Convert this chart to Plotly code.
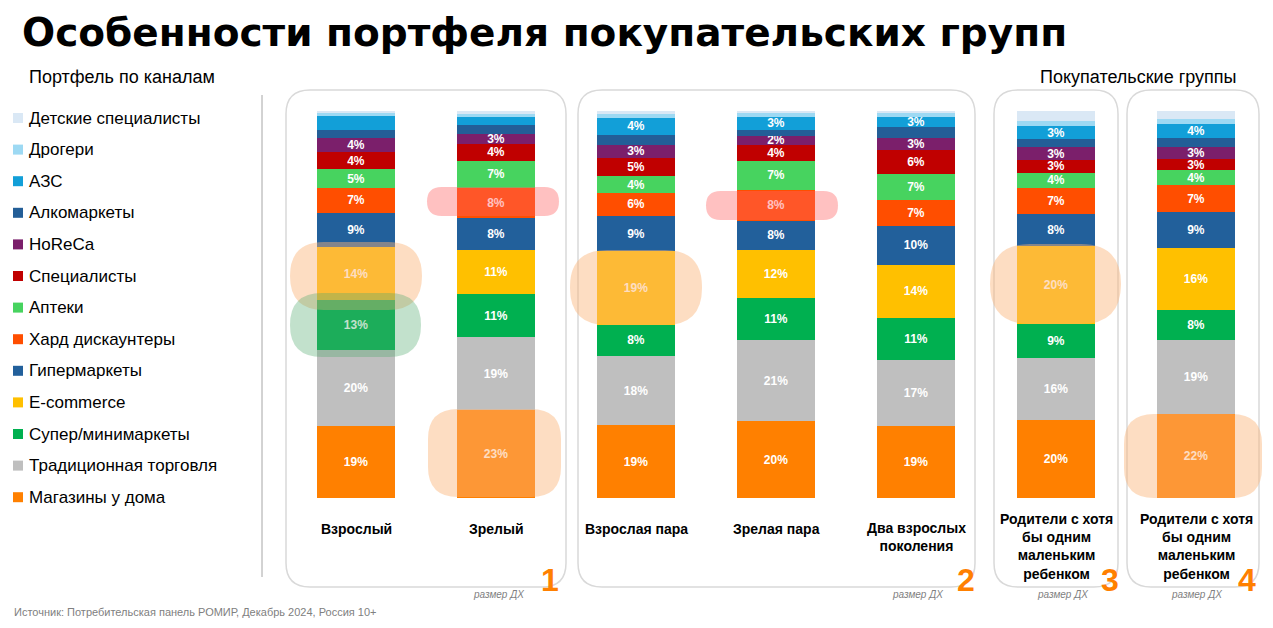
import plotly.graph_objects as go

# ---------------- data ----------------
categories = ["Взрослый", "Зрелый", "Взрослая пара", "Зрелая пара",
              "Два взрослых<br>поколения",
              "Родители с хотя<br>бы одним<br>маленьким<br>ребенком",
              "Родители с хотя<br>бы одним<br>маленьким<br>ребенком"]

# legend order (top of stack -> bottom)
channels = ["Детские специалисты", "Дрогери", "АЗС", "Алкомаркеты", "HoReCa",
            "Специалисты", "Аптеки", "Хард дискаунтеры", "Гипермаркеты",
            "E-commerce", "Супер/минимаркеты", "Традиционная торговля",
            "Магазины у дома"]

det_spec = [0.9, 0.6, 0.8, 0.5, 0.6, 2.7, 2.0]
drogeri = [0.9, 0.9, 1.0, 1.0, 0.9, 1.3, 1.3]
azs = [3.4, 1.9, 4.4, 3.4, 2.6, 3.2, 3.6]
alko = [2.3, 2.4, 2.6, 1.5, 2.8, 2.2, 2.3]
horeca = [3.6, 2.6, 3.3, 2.4, 3.2, 3.2, 3.2]
specialists = [4.4, 4.3, 4.7, 4.2, 6.2, 3.3, 2.9]
apteki = [4.7, 7.2, 4.4, 7.3, 6.7, 3.9, 3.9]
hard = [6.6, 7.6, 5.9, 8.0, 6.7, 6.8, 6.9]
hyper = [8.8, 8.3, 9.2, 7.6, 10.1, 8.2, 9.4]
ecom = [13.6, 11.4, 19.0, 12.3, 13.6, 20.3, 16.0]
supermini = [12.9, 11.1, 8.0, 11.0, 10.9, 8.6, 7.8]
traditional = [19.6, 18.9, 17.9, 21.0, 17.0, 16.2, 19.1]
home_stores = [18.7, 22.7, 18.8, 19.8, 18.7, 20.1, 21.6]

series_values = [det_spec, drogeri, azs, alko, horeca, specialists, apteki,
                 hard, hyper, ecom, supermini, traditional, home_stores]

# which segments carry a value label
ALL = [True] * 7
NONE = [False] * 7
labeled = [NONE, NONE, [False, False, True, True, True, True, True], NONE,
           ALL, ALL, ALL, ALL, ALL, ALL, ALL, ALL, ALL]

colors = ["#DAE8F5", "#9DD9F3", "#129FD8", "#235E97", "#7B1F6B", "#C00000",
          "#47D35F", "#FF4E00", "#22609B", "#FFC000", "#00B050", "#BFBFBF",
          "#FF8000"]

group_numbers = ["1", "2", "3", "4"]

# ---------------- layout helpers ----------------
OFF = 8  # page body margin
W, H = 1273 - OFF, 628 - OFF
ML, MR, MT, MB = 286 - OFF, 7, 111 - OFF, 130
PW, PH = W - ML - MR, H - MT - MB


def px(x):
    """page pixel x -> paper"""
    return (x - OFF - ML) / PW


def py(y):
    """page pixel y -> paper"""
    return (H - MB - (y - OFF)) / PH


def rrect(x0, y0, x1, y1, r):
    """rounded rectangle path in paper coords from page-pixel box"""
    rx = r / PW
    ry = r / PH
    X0, X1 = px(x0), px(x1)
    Y0, Y1 = py(y1), py(y0)
    return (f"M{X0+rx},{Y0} L{X1-rx},{Y0} Q{X1},{Y0} {X1},{Y0+ry} "
            f"L{X1},{Y1-ry} Q{X1},{Y1} {X1-rx},{Y1} L{X0+rx},{Y1} "
            f"Q{X0},{Y1} {X0},{Y1-ry} L{X0},{Y0+ry} Q{X0},{Y0} {X0+rx},{Y0} Z")


FONT = "Liberation Sans, Arial, sans-serif"

fig = go.Figure()
xs = list(range(len(categories)))

# bottom -> top stacking
for i in reversed(range(len(channels))):
    vals = series_values[i]
    texts = [f"{v:.0f}%" if lab else "" for v, lab in zip(vals, labeled[i])]
    fig.add_trace(go.Bar(
        x=xs, y=vals, name=channels[i], marker=dict(color=colors[i], line=dict(width=0)),
        width=0.56, text=texts, textposition="inside", insidetextanchor="middle",
        constraintext="none", textangle=0,
        textfont=dict(color="white", size=12, family=FONT, weight="bold"),
        showlegend=False, hoverinfo="skip"))

shapes = []
# group boxes (below bars)
for (x0, x1) in [(286, 566), (578, 975), (994, 1118), (1127, 1259)]:
    shapes.append(dict(type="path", path=rrect(x0, 90, x1, 587, 24),
                       xref="paper", yref="paper", layer="below",
                       line=dict(color="#D9D9D9", width=1.5), fillcolor="white"))
# vertical divider
shapes.append(dict(type="line", xref="paper", yref="paper", x0=px(262), x1=px(262),
                   y0=py(95), y1=py(577), line=dict(color="#A6A6A6", width=1)))

# highlights
peach = "rgba(250,180,120,0.45)"
pink = "rgba(255,100,100,0.40)"
green = "rgba(80,170,110,0.35)"
highlights = [
    (290, 242, 422, 310, 34, peach),
    (290, 293, 421, 357, 32, green),
    (427, 187, 559, 216, 14.5, pink),
    (706, 191, 838, 220, 14.5, pink),
    (570, 250, 702, 325, 37, peach),
    (428, 409, 561, 497, 30, peach),
    (990, 244, 1121, 324, 40, peach),
    (1124, 414, 1262, 498, 30, peach),
]
for (x0, y0, x1, y1, r, c) in highlights:
    shapes.append(dict(type="path", path=rrect(x0, y0, x1, y1, r), xref="paper",
                       yref="paper", layer="above", line=dict(width=0), fillcolor=c))

# legend squares
legend_y0 = 118
legend_step = 31.6
for i, c in enumerate(colors):
    yc = legend_y0 + i * legend_step
    shapes.append(dict(type="rect", xref="paper", yref="paper",
                       x0=px(13), x1=px(23), y0=py(yc + 5), y1=py(yc - 5),
                       fillcolor=c, line=dict(width=0)))

annotations = []
# title
annotations.append(dict(text="<b>Особенности портфеля покупательских групп</b>",
                        x=px(21), y=py(32), xref="paper", yref="paper",
                        xanchor="left", yanchor="middle", showarrow=False,
                        borderpad=0,
                        font=dict(family="DejaVu Sans", size=39, color="black")))
annotations.append(dict(text="Портфель по каналам", x=px(27), y=py(77), xref="paper",
                        yref="paper", xanchor="left", yanchor="middle", showarrow=False,
                        font=dict(family=FONT, size=18, color="black")))
annotations.append(dict(text="Покупательские группы", x=px(1238), y=py(77), xref="paper",
                        yref="paper", xanchor="right", yanchor="middle", showarrow=False,
                        font=dict(family=FONT, size=18, color="black")))
# legend labels
for i, name in enumerate(channels):
    yc = legend_y0 + i * legend_step
    annotations.append(dict(text=name, x=px(27), y=py(yc), xref="paper", yref="paper",
                            xanchor="left", yanchor="middle", showarrow=False,
                            font=dict(family=FONT, size=17, color="black")))
# category labels
cat_tops = [519, 519, 519, 519, 518, 509, 509]
for i, cat in enumerate(categories):
    annotations.append(dict(text=f"<b>{cat}</b>", x=i, y=py(cat_tops[i]), xref="x",
                            yref="paper", xanchor="center", yanchor="top",
                            showarrow=False, align="center",
                            font=dict(family=FONT, size=14, color="black")))
# group numbers and "размер ДХ"
num_x = [550, 966, 1110, 1247]
size_x = [498, 917, 1062, 1196]
for n, nx, sx in zip(group_numbers, num_x, size_x):
    annotations.append(dict(text=f"<b>{n}</b>", x=px(nx), y=py(580), xref="paper",
                            yref="paper", xanchor="center", yanchor="middle",
                            showarrow=False,
                            font=dict(family=FONT, size=32, color="#FF8000")))
    annotations.append(dict(text="<i>размер ДХ</i>", x=px(sx), y=py(594), xref="paper",
                            yref="paper", xanchor="center", yanchor="middle",
                            showarrow=False,
                            font=dict(family=FONT, size=10, color="#7F7F7F")))
annotations.append(dict(text="Источник: Потребительская панель РОМИР, Декабрь 2024, Россия 10+",
                        x=px(12), y=py(612), xref="paper", yref="paper",
                        xanchor="left", yanchor="middle", showarrow=False,
                        font=dict(family=FONT, size=11, color="#808080")))

fig.update_layout(
    width=W, height=H, barmode="stack",
    margin=dict(l=ML, r=MR, t=MT, b=MB, autoexpand=False),
    paper_bgcolor="white", plot_bgcolor="rgba(0,0,0,0)",
    xaxis=dict(range=[-0.5, 6.5], visible=False, fixedrange=True),
    yaxis=dict(range=[0, 100], visible=False, fixedrange=True),
    shapes=shapes, annotations=annotations, showlegend=False,
)

fig.write_html("out.html", config={"displayModeBar": False})
